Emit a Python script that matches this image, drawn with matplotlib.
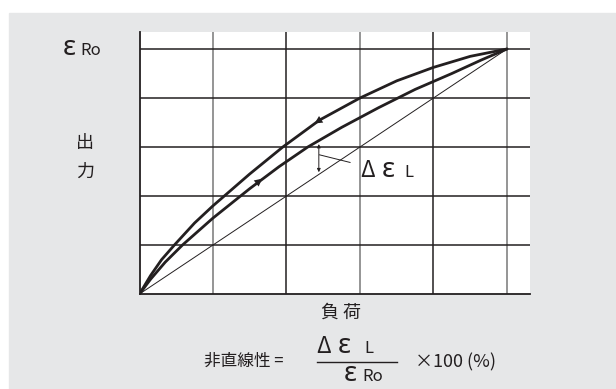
import matplotlib
matplotlib.use('Agg')
import matplotlib.pyplot as plt
from matplotlib.patches import Rectangle

plt.rcParams['font.family'] = ['Noto Sans CJK JP', 'DejaVu Sans']

# curves (load -> output, both normalised to 1)
up_x = [0, 0.03, 0.06, 0.095, 0.15, 0.2, 0.3, 0.39, 0.49, 0.6, 0.7, 0.8, 0.9, 1.0]
up_y = [0, 0.075, 0.14, 0.2, 0.29, 0.36, 0.49, 0.6, 0.71, 0.8, 0.87, 0.925, 0.97, 1.0]
down_x = [0, 0.03, 0.07, 0.117, 0.2, 0.3, 0.38, 0.458, 0.55, 0.65, 0.75, 0.85, 0.93, 1.0]
down_y = [0, 0.06, 0.13, 0.2, 0.31, 0.43, 0.52, 0.6, 0.68, 0.76, 0.835, 0.9, 0.955, 1.0]
grid_x = [0.2, 0.4, 0.6, 0.8, 1.0]
grid_y = [0.2, 0.4, 0.6, 0.8, 1.0]

ink = '#231f20'
W, H = 616, 389
fig = plt.figure(figsize=(W / 100, H / 100), dpi=100)
fig.patch.set_facecolor('white')
fig.patches.append(Rectangle((9 / W, 0), 1 - 9 / W, 1 - 13 / H,
                             transform=fig.transFigure, color='#e6e7e8', zorder=-10))

# white plotting panel: x 139.5..530 px, y 32..294 px
ax = fig.add_axes([139.5 / W, (H - 294) / H, (530 - 139.5) / W, (294 - 32) / H])
ax.set_facecolor('white')
ax.set_xlim(0, (530 - 140) / 367)
ax.set_ylim(0, (294 - 32) / 245)
for s in ['top', 'right']:
    ax.spines[s].set_visible(False)
for s in ['left', 'bottom']:
    ax.spines[s].set_color(ink)
    ax.spines[s].set_linewidth(1.3)
ax.set_xticks([])
ax.set_yticks([])

for i, gx in enumerate(grid_x):
    c = '#8c8c8c' if i % 2 == 0 else ink
    ax.axvline(gx, color=c, lw=1.3 if i % 2 == 0 else 1.1, zorder=1)
for gy in grid_y:
    ax.axhline(gy, color=ink, lw=1.1, zorder=1)

ax.plot([0, 1], [0, 1], color=ink, lw=0.7, zorder=2)
ax.plot(up_x, up_y, color=ink, lw=2.0, zorder=3, solid_capstyle='round')
ax.plot(down_x, down_y, color=ink, lw=2.0, zorder=3, solid_capstyle='round')

# direction arrows on the curves
ax.annotate('', xy=(0.34, 0.478), xytext=(0.30, 0.43),
            arrowprops=dict(arrowstyle='-|>', mutation_scale=14, lw=0, color=ink))
ax.annotate('', xy=(0.47, 0.69), xytext=(0.51, 0.728),
            arrowprops=dict(arrowstyle='-|>', mutation_scale=14, lw=0, color=ink))

# delta epsilon marker
ax.annotate('', xy=(0.488, 0.497), xytext=(0.488, 0.612),
            arrowprops=dict(arrowstyle='<|-|>', mutation_scale=5, lw=0.7, color=ink,
                            shrinkA=0, shrinkB=0))
ax.plot([0.49, 0.573], [0.568, 0.537], color=ink, lw=0.7)

eps = dict(family=['Noto Sans', 'DejaVu Sans'], fontsize=20, color=ink, va='baseline')


def label(x, y, t, **kw):
    fig.text(x / W, 1 - y / H, t, **kw)


label(360, 177, 'Δ', fontsize=16, color=ink, va='baseline')
label(382, 177, 'ε', **eps)
label(404, 177, 'L', fontsize=12, color=ink, va='baseline')

# y labels
label(63, 55, 'ε', **eps)
label(80, 55, 'Ro', fontsize=12, color=ink, va='baseline')
label(85, 143, '出', fontsize=13, color=ink, va='center', ha='center')
label(85, 172, '力', fontsize=13, color=ink, va='center', ha='center')

# x label and formula
label(341, 313, '負 荷', fontsize=13, color=ink, va='center', ha='center')
label(244, 361, '非直線性 =', fontsize=12, color=ink, va='center', ha='center')
label(316, 353, 'Δ', fontsize=16, color=ink, va='baseline')
label(338, 353, 'ε', **eps)
label(364, 353, 'L', fontsize=12, color=ink, va='baseline')
fig.add_artist(plt.Line2D([317 / W, 397 / W], [1 - 362 / H, 1 - 362 / H], color=ink, lw=1.0))
label(344, 381, 'ε', **eps)
label(362, 381, 'Ro', fontsize=12, color=ink, va='baseline')
label(415, 362, '×100 (%)', fontsize=13, color=ink, va='center', ha='left')

fig.savefig('out.png', dpi=100)
